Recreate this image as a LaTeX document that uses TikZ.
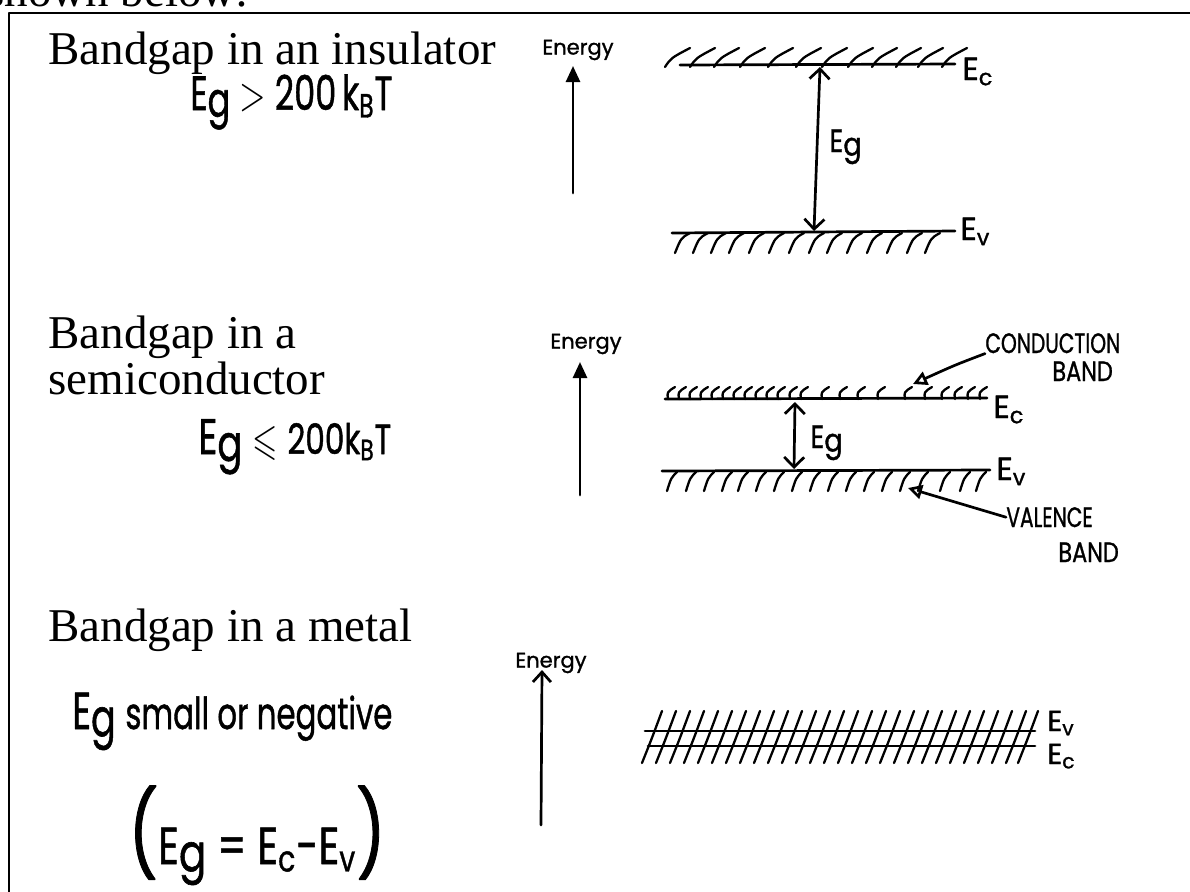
\documentclass[tikz,border=0pt]{standalone}
\usepackage{fontspec}
\setmainfont{Liberation Serif}
\newfontfamily\hand[FakeBold=1.2]{Poppins}
\usepackage{amssymb}
\usetikzlibrary{arrows.meta}
\begin{document}
\begin{tikzpicture}[x=0.5pt,y=-0.5pt,line cap=round,line join=round,
  pen/.style={line width=1.35pt},
  hatchline/.style={line width=1.15pt},
  heading/.style={font=\fontsize{23.5}{28}\selectfont,anchor=base west,inner sep=0pt},
  hw/.style={font=\hand,anchor=base west,inner sep=0pt},
  enlabel/.style={font=\hand\fontsize{10.5}{11}\selectfont,inner sep=0pt},
  bandlabel/.style={font=\hand\fontsize{16}{16}\selectfont,anchor=base west,inner sep=0pt},
  caplabel/.style={font=\hand\fontsize{14}{14}\selectfont,anchor=base west,inner sep=0pt},
  filledhead/.style={-{Triangle[length=8pt,width=7pt]}},
  barbboth/.style={{Straight Barb[length=5pt,width=10pt]}-{Straight Barb[length=5pt,width=10pt]}},
  barbhead/.style={-{Straight Barb[length=5pt,width=9pt]}},
  openhead/.style={-{Triangle[open,length=7pt,width=7pt]}}
]
\useasboundingbox (0,0) rectangle (1190,891);
% frame and cut-off text above
\draw[line width=1.35pt] (9,900) -- (9,13) -- (1200,13);
\node[heading] (prev) at (-14,6) {shown below:};

% ---------- Insulator ----------
\node[heading] (h1) at (48,64) {Bandgap in an insulator};
\node[hw,font=\hand\fontsize{24}{24}\selectfont] (c1) at (190,110)
  {\scalebox{0.7}[1]{E\raisebox{-0.25ex}{g} {\fontsize{30}{30}\selectfont$>$} 200\,k\textsubscript{B}T}};
\node[enlabel] (en1) at (578,50) {Energy};
\coordinate (e1b) at (573,193);
\coordinate (e1t) at (573,66);
\draw[pen,filledhead] (e1b) -- (e1t);

\coordinate (ec1l) at (680,65);
\coordinate (ec1r) at (955,64);
\draw[pen] (ec1l) -- (ec1r);
\foreach \x in {665,690,714,740,768,796,822,848,872,896,918,942}
  \draw[hatchline] (\x,67) .. controls (\x+6,58) .. (\x+25,48);
\node[bandlabel] (ec1lab) at (962,80) {E\textsubscript{c}};

\coordinate (ev1l) at (672,233);
\coordinate (ev1r) at (955,231);
\draw[pen] (ev1l) -- (ev1r);
\foreach \x in {690,708,726,744,764,784,804,824,842,862,882,902,922,940}
  \draw[hatchline] (\x,233) .. controls (\x-9,238) .. (\x-15,253);
\node[bandlabel] (ev1lab) at (960,240) {E\textsubscript{v}};

\coordinate (g1t) at (820,67);
\coordinate (g1b) at (814,231);
\draw[pen,barbboth] (g1b) -- (g1t);
\node[hw,font=\hand\fontsize{16}{16}\selectfont] (g1lab) at (829,152) {\scalebox{0.85}[1]{E\raisebox{-0.2ex}{g}}};

% ---------- Semiconductor ----------
\node[heading] (h2a) at (48,348) {Bandgap in a};
\node[heading] (h2b) at (48,394) {semiconductor};
\node[hw,font=\hand\fontsize{25}{25}\selectfont] (c2) at (198,454)
  {\scalebox{0.74}[1]{E\raisebox{-0.25ex}{g} {\fontsize{22}{22}\selectfont$\leqslant$} {\fontsize{21}{21}\selectfont 200k\textsubscript{B}T}}};
\node[enlabel] (en2) at (586,344) {Energy};
\coordinate (e2b) at (580,495);
\coordinate (e2t) at (580,362);
\draw[pen,filledhead] (e2b) -- (e2t);

\coordinate (ec2l) at (665,399);
\coordinate (ec2r) at (987,398);
\draw[pen] (ec2l) -- (ec2r);
\foreach \x in {668,679,690,701,712,723,734,745,756,767,778,790,801,822,840,858,878,905,925,942,955,968,980}
  \draw[hatchline] (\x,399) .. controls (\x-1,392) .. (\x+7,387);
\node[bandlabel] (ec2lab) at (993,418) {E\textsubscript{c}};

\coordinate (ev2l) at (662,471);
\coordinate (ev2r) at (990,470);
\draw[pen] (ev2l) -- (ev2r);
\foreach \x in {677,696,714,732,748,766,784,802,820,838,856,874,892,910,928,950,970,986}
  \draw[hatchline] (\x,472) .. controls (\x-6,478) .. (\x-10,491);
\node[bandlabel] (ev2lab) at (996,480) {E\textsubscript{v}};

\coordinate (g2t) at (795,402);
\coordinate (g2b) at (794,469);
\draw[pen,barbboth] (g2b) -- (g2t);
\node[hw,font=\hand\fontsize{16}{16}\selectfont] (g2lab) at (810,448) {\scalebox{0.85}[1]{E\raisebox{-0.2ex}{g}}};

\node[caplabel] (cond) at (985,353) {\scalebox{0.72}[1]{CONDUCTION}};
\node[caplabel] (band1) at (1052,381) {\scalebox{0.8}[1]{BAND}};
\coordinate (cbt) at (913,384);
\draw[pen,openhead] (cond.south west) .. controls (955,365) .. (cbt);

\node[caplabel] (val) at (1006,527) {\scalebox{0.72}[1]{VALENCE}};
\node[caplabel] (band2) at (1058,562) {\scalebox{0.8}[1]{BAND}};
\coordinate (vbt) at (908,488);
\draw[pen,openhead] (val.west) .. controls (965,505) .. (vbt);

% ---------- Metal ----------
\node[heading] (h3) at (48,641) {Bandgap in a metal};
\node[hw,font=\hand\fontsize{26}{26}\selectfont] (c3) at (72,729)
  {\scalebox{0.7}[1]{E\raisebox{-0.25ex}{g} \fontsize{22}{22}\selectfont small or negative}};
\node[hw,font=\hand\fontsize{26}{26}\selectfont] (c4) at (128,864)
  {\scalebox{0.78}[1]{{\fontsize{42}{42}\selectfont(}E\raisebox{-0.25ex}{g} = E\textsubscript{c}-E\textsubscript{v}{\fontsize{42}{42}\selectfont)}}};
\node[enlabel] (en3) at (551,663) {Energy};
\coordinate (e3b) at (541,825);
\coordinate (e3t) at (542,670);
\draw[pen,barbhead] (e3b) -- (e3t);

\coordinate (ev3l) at (645,731);
\coordinate (ev3r) at (1035,731);
\coordinate (ec3l) at (648,746);
\coordinate (ec3r) at (1035,746);
\draw[pen] (ev3l) -- (ev3r);
\draw[pen] (ec3l) -- (ec3r);
\foreach \x in {652,666,680,694,708,722,736,750,764,778,792,806,820,834,848,862,876,890,904,918,932,946,960,974,988,1002,1016,1028}
  \draw[hatchline] (\x-10,763) .. controls (\x,738) .. (\x+10,711);
\node[bandlabel,font=\hand\fontsize{14.5}{15}\selectfont] (ev3lab) at (1047,731) {E\textsubscript{v}};
\node[bandlabel,font=\hand\fontsize{14.5}{15}\selectfont] (ec3lab) at (1047,764) {E\textsubscript{c}};
\end{tikzpicture}
\end{document}
